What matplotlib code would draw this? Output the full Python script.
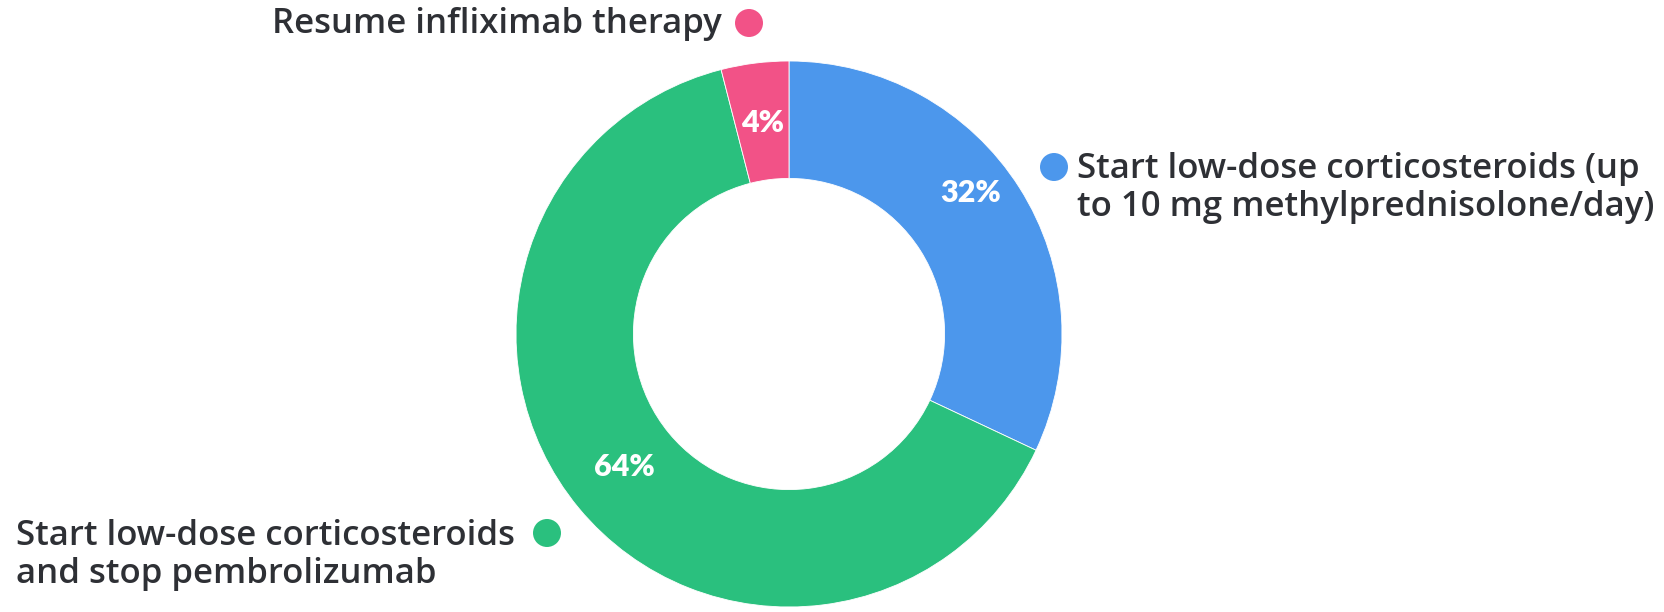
import numpy as np
import matplotlib
matplotlib.use("Agg")
import matplotlib.pyplot as plt

# Survey responses (percent of respondents)
labels = [
    "Start low-dose corticosteroids (up\nto 10 mg methylprednisolone/day)",
    "Start low-dose corticosteroids\nand stop pembrolizumab",
    "Resume infliximab therapy",
]
shares = [32, 64, 4]
colors = ["#4C97EC", "#2AC07E", "#F25287"]

W, H = 1665, 612
fig = plt.figure(figsize=(W / 100, H / 100), dpi=100)
ax = fig.add_axes([0, 0, 1, 1])

cx, cy, R = 789, H - 334, 273
ring = 0.43 * R

wedges, _ = ax.pie(
    shares, colors=colors, startangle=90, counterclock=False,
    radius=R, center=(cx, cy), frame=True,
    wedgeprops=dict(width=ring, edgecolor="white", linewidth=0.6),
)
ax.set_xlim(0, W)
ax.set_ylim(0, H)
ax.set_aspect("equal")
ax.axis("off")

# percentage labels inside the ring
pct_font = dict(family=["Lato", "DejaVu Sans"], fontsize=22, fontweight="heavy",
                color="white", ha="center", va="center")
nudges = [(5.4, 0.84), (-0.6, 0.777), (0.0, 0.78)]  # (degrees, radius fraction)
for w, v, (dth, rf) in zip(wedges, shares, nudges):
    mid = 0.5 * (w.theta1 + w.theta2) + dth
    r = rf * R
    ax.text(cx + r * np.cos(np.radians(mid)), cy + r * np.sin(np.radians(mid)),
            f"{v}%", **pct_font)

# category labels with colored dots
lab_font = dict(family=["Open Sans", "DejaVu Sans"], fontsize=25, fontweight=600,
                color="#2E3035", linespacing=1.17)
dot_r = 14

def dot(x, y, c):
    ax.add_patch(plt.Circle((x, y), dot_r, color=c, lw=0))

# blue slice label (right)
dot(1054, H - 167, colors[0])
ax.text(1077, H - 188, labels[0], ha="left", va="center", **lab_font)
# green slice label (bottom left)
dot(547, H - 533, colors[1])
ax.text(16, H - 555, labels[1], ha="left", va="center", **lab_font)
# pink slice label (top)
dot(749, H - 23, colors[2])
ax.text(722, H - 24, labels[2], ha="right", va="center", **lab_font)

fig.savefig("out.png", dpi=100, facecolor="white")
